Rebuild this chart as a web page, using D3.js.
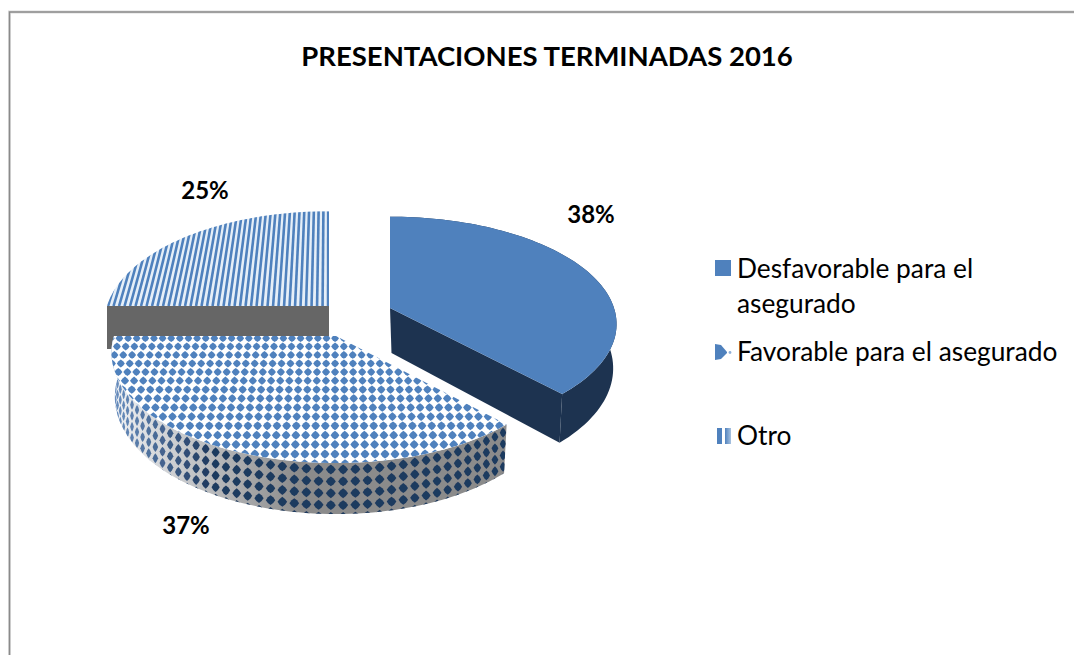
<!DOCTYPE html>
<html><head><meta charset="utf-8">
<script src="https://cdn.jsdelivr.net/npm/d3@7/dist/d3.min.js"></script>
<style>html,body{margin:0;padding:0;background:#fff;overflow:hidden}svg{display:block}text{font-family:Lato,"Open Sans",sans-serif;fill:#000}</style>
</head><body><script>
const chartTitle = "PRESENTACIONES TERMINADAS 2016";
const categories = ["Desfavorable para el asegurado","Favorable para el asegurado","Otro"];
const values = [38,37,25];
const valueLabels = ["38%","37%","25%"];
const legendLines = [["Desfavorable para el","asegurado"],["Favorable para el asegurado"],["Otro"]];

const W=1074,H=655;
const svg=d3.select("body").append("svg").attr("width",W).attr("height",H);
const defs=svg.append("defs");
defs.append("filter").attr("id","soft").append("feGaussianBlur").attr("stdDeviation",0.55);
const g1=defs.append("linearGradient").attr("id","sideGrad").attr("gradientUnits","userSpaceOnUse")
  .attr("x1",110).attr("x2",300).attr("y1",0).attr("y2",0);
g1.append("stop").attr("offset",0).attr("stop-color","#f2f4f7");
g1.append("stop").attr("offset",0.3).attr("stop-color","#d0d2d5");
g1.append("stop").attr("offset",1).attr("stop-color","#8b8b8b");
const g2=defs.append("linearGradient").attr("id","barGrad");
g2.append("stop").attr("offset",0).attr("stop-color","#4f81bd");
g2.append("stop").attr("offset",1).attr("stop-color","#a9c3e0");

// frame
svg.append("path").attr("d","M9.5,655V12H1074").attr("fill","none").attr("stroke","#dcdcdc").attr("stroke-width",3);
svg.append("path").attr("d","M9.5,655V12H1074").attr("fill","none").attr("stroke","#8a8a8a").attr("stroke-width",1.4);

const arcs=d3.pie().sort(null)(values);
const K=0.15;
const geo=[{cx:390,cy:308,R:224,Q:105},{cx:336,cy:336,R:222,Q:108},{cx:329,cy:306,R:222,Q:109}];
function proj(g,u,v){const s=1/(1-K*v);return [g.cx+g.R*u*s,g.cy+g.Q*v*s,s];}
function projA(g,a){return proj(g,Math.sin(a),-Math.cos(a));}
function depth(v){return 43+8*v;}
function low(g,a,t=1){const v=-Math.cos(a),p=projA(g,a);
  return [g.cx+(p[0]-g.cx)*(1-0.015*t),p[1]+depth(v)*t];}
function rim(g,a0,a1,f,n=80){return d3.range(n+1).map(i=>f(a0+(a1-a0)*i/n));}
const lineGen=d3.line();
const closed=pts=>lineGen(pts)+"Z";
function facePts(g,a){const r=rim(g,a.startAngle,a.endAngle,x=>projA(g,x).slice(0,2));return [[g.cx,g.cy],...r];}
function sidePts(g,a){
  const up=rim(g,a.startAngle,a.endAngle,x=>projA(g,x).slice(0,2));
  const dn=rim(g,a.endAngle,a.startAngle,x=>low(g,x));
  return [...up,...dn];
}
function clip(id,d){defs.append("clipPath").attr("id",id).append("path").attr("d",d);}

// slice 3 (back, stripes)
(function(){
  const g=geo[2],a=arcs[2];
  svg.append("rect").datum(g).attr("x",g.cx-g.R).attr("y",g.cy).attr("width",g.R).attr("height",depth(0)).attr("fill","#666");
  const d=closed(facePts(g,a));clip("c3",d);
  svg.append("path").attr("d",d).attr("fill","#e6eff8");
  const st=svg.append("g").attr("clip-path","url(#c3)").append("g").attr("filter","url(#soft)");
  const step=5.5/g.R;
  for(let u=-1.02;u<0.01;u+=step){
    const p=proj(g,u,-1),q=proj(g,u,0);
    st.append("line").attr("x1",p[0]).attr("y1",p[1]).attr("x2",q[0]).attr("y2",q[1])
      .attr("stroke","#4f81bd").attr("stroke-width",2.6);
  }
})();

// slice 2 (front, diamonds)
function diamond(sel,x,y,sx,sy,fill){
  const r=3.4,q=r*.72,t=r+.9;
  sel.append("path").attr("transform",`translate(${x},${y}) scale(${sx},${sy})`)
   .attr("d",`M${-t},0L${-q},${-q}L0,${-t}L${q},${-q}L${t},0L${q},${q}L0,${t}L${-q},${q}Z`)
   .attr("fill",fill);
}
(function(){
  const g=geo[1],a=arcs[1];
  const sd=closed(sidePts(g,a));clip("s2",sd);
  svg.append("path").attr("d",sd).attr("fill","url(#sideGrad)");
  const sg=svg.append("g").attr("clip-path","url(#s2)").append("g").attr("filter","url(#soft)");
  const da=0.047;
  for(let t=a.endAngle;t>a.startAngle-da;t-=da){
    const p=projA(g,t),v=-Math.cos(t);
    const prev=projA(g,t+0.02);
    const sx=Math.max(0.3,Math.min(1.15,Math.abs(p[0]-prev[0])/(0.02*g.R*1.17)));
    for(let k=0;k<5;k++){
      const f=(k+0.55)/4.3;
      const y=p[1]+depth(v)*f;
      const fill=d3.interpolateRgb("#6d93c4","#1f3a5f")(Math.min(1,Math.max(0,(p[0]-110)/100)));
      diamond(sg,p[0],y,sx*1.15,1.15,fill);
    }
  }
  const d=closed(facePts(g,a));clip("c2",d);
  svg.append("path").attr("d",d).attr("fill","#fff");
  const tg=svg.append("g").attr("clip-path","url(#c2)").append("g").attr("filter","url(#soft)");
  const su=8.6/g.R, sv=8.2/g.Q;
  for(let v=0.02;v<1.02;v+=sv*(1-K*v)){
    for(let u=-1.05;u<0.9;u+=su){
      const p=proj(g,u,v);
      diamond(tg,p[0],p[1],p[2]*.9,p[2]*.9,"#4f81bd");
    }
  }
})();

// slice 1 (solid)
(function(){
  const g=geo[0],a=arcs[0];
  const c0=[g.cx,g.cy],c1=[g.cx+1.5,g.cy+depth(0)+2];
  const e=projA(g,a.endAngle).slice(0,2),eb=low(g,a.endAngle);
  svg.append("path").attr("d",closed(sidePts(g,a))).attr("fill","#1d3350");
  svg.append("path").attr("d",closed([c0,e,eb,c1])).attr("fill","#1d3350");
  svg.append("path").attr("d",closed(facePts(g,a))).attr("fill","#4f81bd");
})();

// title + labels
svg.append("text").attr("x",547).attr("y",66).attr("text-anchor","middle")
  .attr("font-size",27.5).attr("font-weight",700).text(chartTitle);
const labelPos=[[591,223],[186,534],[205,199]];
svg.selectAll("text.v").data(valueLabels).join("text").attr("class","v")
  .attr("x",(d,i)=>labelPos[i][0]).attr("y",(d,i)=>labelPos[i][1])
  .attr("text-anchor","middle").attr("font-size",24).attr("font-weight",700).text(d=>d);

// legend
const legendY=[278,361,445];
legendLines.forEach((ls,i)=>ls.forEach((t,j)=>{
  svg.append("text").attr("x",737).attr("y",legendY[i]+j*35).attr("font-size",26.3).text(t);
}));
svg.append("rect").attr("x",715).attr("y",260).attr("width",16).attr("height",16).attr("fill","#4f81bd");
const sw=svg.append("g");
sw.append("path").attr("d","M715,344L721,345L727,352L727,353L721,359L715,360Z").attr("fill","#4f81bd");
sw.append("circle").attr("cx",730).attr("cy",352.5).attr("r",1.4).attr("fill","#8fb0d8");
sw.append("rect").attr("x",717).attr("y",428).attr("width",5).attr("height",16).attr("fill","#4f81bd");
sw.append("rect").attr("x",725).attr("y",428).attr("width",6).attr("height",16).attr("fill","url(#barGrad)");
</script></body></html>
